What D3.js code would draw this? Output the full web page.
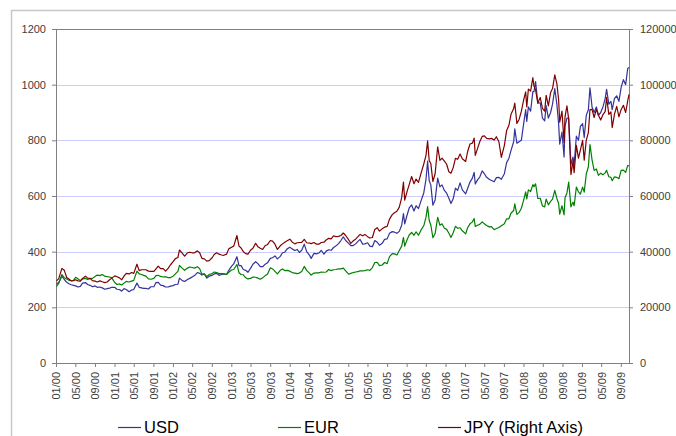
<!DOCTYPE html>
<html>
<head>
<meta charset="utf-8">
<script src="https://cdn.jsdelivr.net/npm/d3@7"></script>
<style>
  body { margin: 0; background: #fff; }
  svg { display: block; font-family: "Liberation Sans", Arial, sans-serif; }
</style>
</head>
<body>
<div id="chart"></div>
<script>
// gold price, roughly two readings a month
const dates = [
  "2000-01-04","2000-01-18","2000-02-07","2000-02-22","2000-03-08","2000-03-22","2000-04-05","2000-04-19","2000-05-03","2000-05-17","2000-06-01","2000-06-15","2000-07-03","2000-07-17","2000-08-01","2000-08-16","2000-09-01","2000-09-15","2000-10-02","2000-10-16","2000-11-01","2000-11-16","2000-12-01","2000-12-15",
  "2001-01-02","2001-01-16","2001-02-01","2001-02-15","2001-03-01","2001-03-15","2001-04-02","2001-04-17","2001-05-01","2001-05-21","2001-06-04","2001-06-18","2001-07-02","2001-07-16","2001-08-01","2001-08-16","2001-09-04","2001-09-17","2001-10-01","2001-10-16","2001-11-01","2001-11-16","2001-12-03","2001-12-17",
  "2002-01-02","2002-01-16","2002-02-01","2002-02-11","2002-03-01","2002-03-15","2002-04-02","2002-04-16","2002-05-01","2002-05-16","2002-06-03","2002-06-17","2002-07-01","2002-07-16","2002-08-01","2002-08-16","2002-09-03","2002-09-16","2002-10-01","2002-10-16","2002-11-01","2002-11-15","2002-12-02","2002-12-16",
  "2003-01-02","2003-01-16","2003-02-05","2003-02-18","2003-03-03","2003-03-17","2003-04-01","2003-04-15","2003-05-01","2003-05-16","2003-06-02","2003-06-16","2003-07-01","2003-07-16","2003-08-01","2003-08-15","2003-09-02","2003-09-16","2003-10-01","2003-10-16","2003-11-03","2003-11-17","2003-12-01","2003-12-16",
  "2004-01-02","2004-01-16","2004-02-02","2004-02-17","2004-03-01","2004-03-16","2004-04-01","2004-04-16","2004-05-03","2004-05-14","2004-06-01","2004-06-16","2004-07-01","2004-07-16","2004-08-02","2004-08-16","2004-09-01","2004-09-16","2004-10-01","2004-10-15","2004-11-01","2004-11-16","2004-12-01","2004-12-16",
  "2005-01-03","2005-01-17","2005-02-01","2005-02-16","2005-03-01","2005-03-16","2005-04-01","2005-04-15","2005-05-02","2005-05-16","2005-06-01","2005-06-16","2005-07-01","2005-07-15","2005-08-01","2005-08-16","2005-09-01","2005-09-16","2005-10-03","2005-10-17","2005-11-01","2005-11-16","2005-12-01","2005-12-12","2005-12-20",
  "2006-01-03","2006-01-17","2006-02-01","2006-02-16","2006-03-01","2006-03-16","2006-04-03","2006-04-18","2006-05-02","2006-05-12","2006-05-22","2006-06-01","2006-06-14","2006-06-28","2006-07-14","2006-07-28","2006-08-10","2006-08-25","2006-09-08","2006-09-22","2006-10-05","2006-10-19","2006-11-02","2006-11-16","2006-12-01","2006-12-15",
  "2007-01-05","2007-01-17","2007-02-01","2007-02-16","2007-02-27","2007-03-06","2007-03-20","2007-04-03","2007-04-18","2007-05-02","2007-05-16","2007-06-01","2007-06-15","2007-07-02","2007-07-16","2007-08-01","2007-08-16","2007-09-04","2007-09-18","2007-10-02","2007-10-16","2007-11-01","2007-11-08","2007-11-21","2007-12-05","2007-12-19",
  "2008-01-02","2008-01-15","2008-01-22","2008-02-01","2008-02-15","2008-02-29","2008-03-07","2008-03-17","2008-03-31","2008-04-15","2008-04-29","2008-05-13","2008-05-22","2008-06-05","2008-06-19","2008-07-01","2008-07-15","2008-07-28","2008-08-08","2008-08-15","2008-08-29","2008-09-11","2008-09-17","2008-09-29","2008-10-10","2008-10-24","2008-11-06","2008-11-13","2008-11-27","2008-12-10","2008-12-22",
  "2009-01-05","2009-01-15","2009-01-28","2009-02-10","2009-02-20","2009-03-05","2009-03-18","2009-04-01","2009-04-14","2009-04-28","2009-05-12","2009-05-26","2009-06-04","2009-06-18","2009-07-01","2009-07-09","2009-07-23","2009-08-06","2009-08-20","2009-09-03","2009-09-17","2009-10-01","2009-10-14","2009-10-22"
];

const usd = [
  285,289,312,300,290,285,281,279,277,273,275,287,289,282,279,274,277,272,273,270,265,267,269,272,
  272,265,264,258,267,264,256,262,264,287,272,270,268,268,266,274,274,289,290,280,278,273,273,276,
  278,282,283,305,296,293,300,304,309,314,325,322,316,320,305,312,315,320,322,315,318,320,318,333,
  347,356,382,350,350,336,333,326,340,355,364,357,346,346,355,360,376,378,385,374,383,396,398,410,
  416,410,404,408,397,405,427,400,388,376,394,392,395,405,391,402,407,405,415,420,429,440,453,440,
  430,422,422,428,436,444,427,428,432,420,418,440,434,423,430,444,446,466,472,470,466,473,495,537,500,
  530,557,568,546,565,555,586,611,660,725,655,640,567,586,664,633,640,620,610,592,573,590,628,620,647,622,
  608,627,650,664,685,643,658,668,690,680,667,660,656,651,666,667,660,680,720,735,765,795,841,790,795,800,
  858,910,868,920,905,975,975,1011,934,935,880,870,925,880,900,930,986,930,860,786,830,740,850,880,880,713,740,712,815,800,850,
  860,810,890,910,989,920,900,920,890,900,920,950,983,930,940,910,950,960,940,990,1018,1000,1058,1062
];

const eur = [
  275,286,318,306,302,297,296,297,308,303,296,302,304,300,303,304,311,316,314,318,312,310,309,306,
  289,282,284,280,287,293,291,294,297,330,320,318,315,312,302,301,304,314,315,311,309,310,307,307,
  312,320,329,351,340,333,341,345,343,341,346,339,319,320,311,318,321,327,325,321,321,320,318,326,
  334,336,354,324,318,317,306,302,304,309,308,305,301,306,314,319,342,338,329,320,333,338,332,333,
  330,325,323,321,323,329,347,333,323,316,323,324,324,327,326,327,336,332,335,336,338,338,341,331,
  319,322,325,327,328,331,331,332,335,333,343,361,362,350,352,361,357,382,393,392,388,404,420,451,420,
  442,460,469,459,471,459,480,493,524,562,512,496,450,465,523,495,500,484,480,466,451,468,491,484,486,475,
  464,486,500,507,519,491,495,498,507,500,494,489,490,479,483,487,493,500,518,518,539,548,572,534,541,556,
  584,615,590,622,616,641,633,644,591,592,564,561,589,568,581,589,620,592,573,535,565,532,594,611,650,561,578,565,632,615,607,
  632,614,679,705,785,730,692,697,674,682,676,683,692,669,667,655,669,667,662,692,693,685,710,708
];

const jpy = [
  29500,30300,34000,33300,30700,30200,29500,29600,29900,29500,29400,30400,31200,30500,30400,29600,29400,29100,29500,29200,28900,29100,29900,30500,
  31300,31000,30600,29900,31200,32200,32000,32500,32200,35500,33200,33500,33500,33500,33000,32900,32900,33800,34800,33900,33900,33000,34100,35300,
  36400,37500,37900,40600,39400,38400,39600,39800,39600,39600,40300,39600,37600,37400,36600,36800,37800,39000,39600,39100,38800,38700,39100,41000,
  41600,42000,45800,42000,41300,40000,39300,39100,40500,41200,43000,41800,41200,40800,42200,42500,44000,43800,42700,40800,42100,42800,43400,43900,
  44500,43500,42800,43200,43300,43300,44400,43200,43100,42900,43300,42700,42700,43300,43400,44200,44800,44600,45700,45400,45500,45800,46700,45800,
  44300,43000,43900,44500,45300,46200,45700,46200,45400,44900,45100,48000,48600,47400,48200,48800,49100,51700,53300,54000,54500,56000,59400,65000,58500,
  61500,64100,67000,64400,66100,64900,68600,71500,74600,79800,72700,71700,65200,68000,77700,72800,73600,72500,71400,68700,68200,70200,73500,73200,75100,73400,
  72400,75900,78700,79000,80800,74600,77000,79500,81400,81600,80700,80500,80700,80100,81300,79400,73900,78200,83500,85300,89500,91400,93400,86100,87500,90400,
  94400,97400,92000,98400,97700,102500,99500,98100,93400,95400,91500,90500,96200,92400,97200,98600,103500,100400,94600,86500,90500,79200,88400,92400,87600,67700,72500,68400,78200,73600,76500,
  80000,72900,80100,82800,91000,91100,88200,91100,89000,87300,89200,90300,95400,89300,90200,84600,89300,92200,88400,91100,92600,90000,94200,96500
];

const leftTicks = [0, 200, 400, 600, 800, 1000, 1200];
const rightTicks = [0, 20000, 40000, 60000, 80000, 100000, 120000];
const seriesNames = ["USD", "EUR", "JPY (Right Axis)"];
const seriesColors = ["#333399", "#008000", "#800000"];

const W = 676, H = 436;
const margin = { left: 56, top: 29, right: 47, bottom: 73 };
const plotW = W - margin.left - margin.right;
const plotH = H - margin.top - margin.bottom;

const parse = d3.timeParse("%Y-%m-%d");
const rows = dates.map((d, i) => ({ date: parse(d), usd: usd[i], eur: eur[i], jpy: jpy[i] }));

const svg = d3.select("#chart").append("svg")
    .attr("width", W)
    .attr("height", H);

// outer chart border
svg.append("rect")
    .attr("x", 11.5).attr("y", 10.5)
    .attr("width", 720).attr("height", 500)
    .attr("fill", "#fff")
    .attr("stroke", "#c8c8c8")
    .attr("stroke-width", 1.5);

const g = svg.append("g").attr("transform", `translate(${margin.left},${margin.top})`);

const x = d3.scaleTime()
    .domain([parse("2000-01-01"), parse("2009-10-22")])
    .range([0, plotW]);
const yL = d3.scaleLinear().domain([0, 1200]).range([plotH, 0]);
const yR = d3.scaleLinear().domain([0, 120000]).range([plotH, 0]);

// gridlines
g.selectAll(".grid")
    .data(leftTicks.filter(t => t > 0 && t < 1200))
    .enter().append("line")
    .attr("class", "grid")
    .attr("x1", 0).attr("x2", plotW)
    .attr("y1", d => Math.round(yL(d)) + 0.5)
    .attr("y2", d => Math.round(yL(d)) + 0.5)
    .attr("stroke", "#ccccff")
    .attr("stroke-width", 1);

// top border of plot
g.append("line")
    .attr("x1", 0).attr("x2", plotW)
    .attr("y1", 0.5).attr("y2", 0.5)
    .attr("stroke", "#808080");

function styleAxis(sel) {
    sel.select(".domain").attr("stroke", "#808080");
    sel.selectAll(".tick line").attr("stroke", "#808080");
    sel.selectAll(".tick text")
        .attr("fill", "#404040")
        .attr("font-size", 11)
        .attr("font-family", "'Liberation Sans', Arial, sans-serif");
}

// left axis
g.append("g")
    .call(d3.axisLeft(yL).tickValues(leftTicks).tickSize(4).tickSizeOuter(0)
        .tickPadding(6).tickFormat(d3.format("d")))
    .call(styleAxis);

// right axis
g.append("g")
    .attr("transform", `translate(${plotW},0)`)
    .call(d3.axisRight(yR).tickValues(rightTicks).tickSize(4).tickSizeOuter(0)
        .tickPadding(7).tickFormat(d3.format("d")))
    .call(styleAxis);

// bottom axis, rotated month labels
const xAxis = g.append("g")
    .attr("transform", `translate(0,${plotH})`)
    .call(d3.axisBottom(x).ticks(d3.timeMonth.every(4)).tickFormat(d3.timeFormat("%m/%y"))
        .tickSize(4).tickSizeOuter(0))
    .call(styleAxis);
xAxis.selectAll(".tick text")
    .attr("transform", "rotate(-90)")
    .attr("text-anchor", "end")
    .attr("x", -9)
    .attr("y", 0)
    .attr("dy", "0.35em");

// lines
const lineUsd = d3.line().x(d => x(d.date)).y(d => yL(d.usd));
const lineEur = d3.line().x(d => x(d.date)).y(d => yL(d.eur));
const lineJpy = d3.line().x(d => x(d.date)).y(d => yR(d.jpy));

[lineUsd, lineEur, lineJpy].forEach((ln, i) => {
    g.append("path")
        .datum(rows)
        .attr("fill", "none")
        .attr("stroke", seriesColors[i])
        .attr("stroke-width", 1.2)
        .attr("stroke-linejoin", "round")
        .attr("d", ln);
});

// legend
const legend = svg.append("g").attr("transform", "translate(118,427)");
seriesNames.forEach((name, i) => {
    const item = legend.append("g").attr("transform", `translate(${i * 160},0)`);
    item.append("line")
        .attr("x1", 0).attr("x2", 23)
        .attr("y1", 0.5).attr("y2", 0.5)
        .attr("stroke", seriesColors[i])
        .attr("stroke-width", 1.2);
    item.append("text")
        .attr("x", 26).attr("y", 6)
        .attr("font-size", 16.5)
        .attr("fill", "#000")
        .text(name);
});
</script>
</body>
</html>
